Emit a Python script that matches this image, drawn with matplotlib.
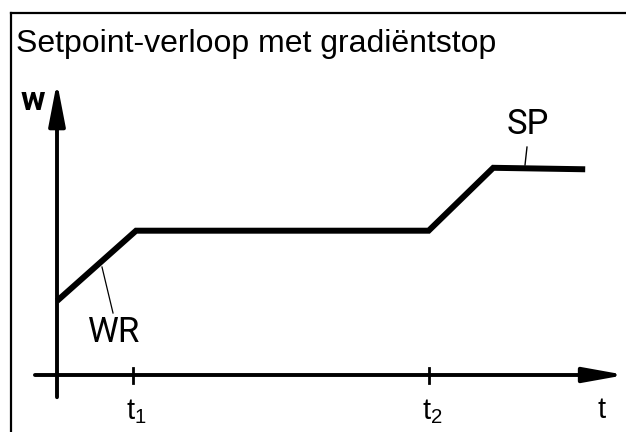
import matplotlib
matplotlib.use("Agg")
import matplotlib.pyplot as plt

plt.rcParams["font.family"] = ["Liberation Sans", "DejaVu Sans"]
plt.rcParams["mathtext.default"] = "regular"

# setpoint curve (t in units of t1, w in units of start value)
t_pts = [0.0, 1.04, 4.89, 5.74, 6.95]
w_pts = [1.0, 1.95, 1.95, 2.80, 2.78]

# time marks on the t axis
tick_pos = [1.0, 4.89]
tick_labels = ["$t_1$", "$t_2$"]

title = "Setpoint-verloop met gradiëntstop"

fig = plt.figure(figsize=(6.26, 4.32), dpi=100)
# frame axes: only top and left border visible
ax = fig.add_axes([11 / 626, 0, 615 / 626, 419 / 432])
ax.set_xlim(-46 / 76, 569 / 76)
ax.set_ylim(-57 / 74, 362 / 74)
ax.set_xticks([])
ax.set_yticks([])
for s in ["right", "bottom"]:
    ax.spines[s].set_visible(False)
for s in ["top", "left"]:
    ax.spines[s].set_linewidth(1.6)

# title
fig.text(16 / 626, 1 - 52 / 432, title, fontsize=23, va="baseline", ha="left")

# axes arrows
ax.annotate("", xy=(0, 3.96), xytext=(0, -0.30),
            arrowprops=dict(arrowstyle="-|>,head_length=2.6,head_width=0.5",
                            mutation_scale=10, lw=2.8, color="black",
                            shrinkA=0, shrinkB=0), annotation_clip=False)
ax.annotate("", xy=(7.48, 0), xytext=(-0.29, 0),
            arrowprops=dict(arrowstyle="-|>,head_length=2.5,head_width=0.45",
                            mutation_scale=10, lw=2.8, color="black",
                            shrinkA=0, shrinkB=0), annotation_clip=False)

# ticks
for tp, lab in zip(tick_pos, tick_labels):
    ax.plot([tp, tp], [0.095, -0.108], color="black", lw=2, clip_on=False)
    ax.text(tp + 0.05, -0.60, lab, fontsize=21, ha="center", va="baseline")

ax.text(7.16, -0.58, "t", fontsize=21, ha="center", va="baseline")
ax.text(-0.316, 3.70, "w", fontsize=24, fontweight="bold", family="Roboto",
        ha="center", va="center")

# setpoint curve
ax.plot(t_pts, w_pts, color="black", lw=4.3, solid_capstyle="butt",
        solid_joinstyle="miter")

# leaders and labels
ax.plot([0.592, 0.737], [1.459, 0.838], color="black", lw=0.9)
ax.text(0.75, 0.58, "WR", fontsize=25, family="Roboto",
        ha="center", va="center")
ax.plot([6.184, 6.158], [3.08, 2.838], color="black", lw=1.0)
ax.text(6.19, 3.39, "SP", fontsize=25, family="Roboto",
        ha="center", va="center")

fig.savefig("out.png", dpi=100)
